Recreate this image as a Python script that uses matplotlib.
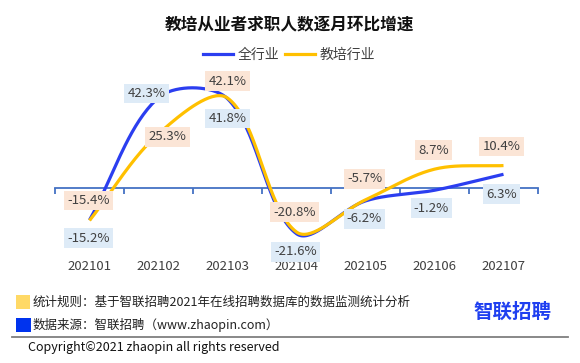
import numpy as np
import matplotlib.pyplot as plt
from matplotlib.lines import Line2D
from matplotlib.patches import Rectangle

plt.rcParams['font.family'] = ['Noto Sans CJK SC', 'DejaVu Sans']

# data: month-over-month growth of job seekers (%)
MONTHS = ["202101", "202102", "202103", "202104", "202105", "202106", "202107"]
ALL_INDUSTRY = [-15.2, 42.3, 41.8, -21.6, -6.2, -1.2, 6.3]
EDU_INDUSTRY = [-15.4, 25.3, 42.1, -20.8, -5.7, 8.7, 10.4]

# label offsets in pixels (dx, dy)
ALL_OFFSETS = [(-1, -18), (-12, 4), (0, -20), (-1, -18), (-1, -18), (-3, -18), (-2, -20)]
EDU_OFFSETS = [(-1, 20), (9, -3), (0, 17), (-2, 20), (-1, 21), (-1, 19), (-2, 19)]

BLUE = "#2b3ef0"
ORANGE = "#ffc000"
W, H = 580, 363
PX_X = 69.0   # pixels per category
PX_Y = 2.13   # pixels per percent


def smooth(xs, ys, n=40):
    # smoothed line like excel: bezier segments, tangents scaled by screen chord length
    pts = np.column_stack([np.asarray(xs) * PX_X, np.asarray(ys) * PX_Y]).astype(float)
    ext = np.vstack([pts[0], pts, pts[-1]])
    m = len(pts)
    c_out, c_in = [], []
    for i in range(m):
        prev, cur, nxt = ext[i], ext[i + 1], ext[i + 2]
        tang = nxt - prev
        dp = np.hypot(*(cur - prev))
        dn = np.hypot(*(nxt - cur))
        s = dp + dn
        c_out.append(cur + tang * dn / (3 * s) if s else cur)
        c_in.append(cur - tang * dp / (3 * s) if s else cur)
    out = []
    t = np.linspace(0, 1, n)[:, None]
    for i in range(m - 1):
        p0, p3 = pts[i], pts[i + 1]
        c1, c2 = c_out[i], c_in[i + 1]
        seg = ((1 - t) ** 3) * p0 + 3 * ((1 - t) ** 2) * t * c1 + 3 * (1 - t) * t ** 2 * c2 + t ** 3 * p3
        out.append(seg if i == 0 else seg[1:])
    out = np.vstack(out)
    return out[:, 0] / PX_X, out[:, 1] / PX_Y


fig = plt.figure(figsize=(W / 100, H / 100), dpi=100)
ax = fig.add_axes([55 / W, (H - 260) / H, 483 / W, 190 / H])

x = np.arange(len(MONTHS))
ax.set_xlim(-0.5, len(MONTHS) - 0.5)
ax.set_ylim(-(260 - 187.7) / PX_Y, (187.7 - 70) / PX_Y)

sx, sy = smooth(x, ALL_INDUSTRY)
ax.plot(sx, sy, color=BLUE, lw=2.3, solid_capstyle='butt', zorder=3)
sx, sy = smooth(x, EDU_INDUSTRY)
ax.plot(sx, sy, color=ORANGE, lw=2.3, solid_capstyle='butt', zorder=4)

for spine in ["top", "right", "left"]:
    ax.spines[spine].set_visible(False)
ax.spines["bottom"].set_position(("data", 0))
ax.spines["bottom"].set_color("#4472c4")
ax.spines["bottom"].set_linewidth(1.3)
ax.set_xticks(np.arange(-0.5, len(MONTHS), 1))
ax.set_xticklabels([])
ax.tick_params(axis="x", direction="out", length=4, width=1.3, color="#4472c4")
ax.set_yticks([])

for i, m in enumerate(MONTHS):
    ax.text(i, -0.032, m, transform=ax.get_xaxis_transform(), ha="center", va="center",
            fontsize=9.5, color="#404040")

for vals, offs, bg in [(ALL_INDUSTRY, ALL_OFFSETS, "#deebf7"), (EDU_INDUSTRY, EDU_OFFSETS, "#fbe5d6")]:
    for i, v in enumerate(vals):
        ax.annotate(f"{v}%", (i, v), xytext=offs[i], textcoords="offset pixels",
                    ha="center", va="center", fontsize=9.5, color="#404040", zorder=6,
                    bbox=dict(boxstyle="square,pad=0.25", fc=bg, ec="none"))

fig.text(289.5 / W, 1 - 24 / H, "教培从业者求职人数逐月环比增速", ha="center", va="center",
         fontsize=12, fontweight="bold", color="#111111")

handles = [Line2D([], [], color=BLUE, lw=2.3), Line2D([], [], color=ORANGE, lw=2.3)]
fig.legend(handles, ["全行业", "教培行业"], loc="center", bbox_to_anchor=(289 / W, 1 - 55 / H),
           ncol=2, frameon=False, fontsize=10, handlelength=2.2, handletextpad=0.3,
           columnspacing=0.4, labelcolor="#404040")

# footer
fig.patches.append(Rectangle((16 / W, 1 - 309 / H), 14 / W, 14 / H, transform=fig.transFigure,
                             fc="#ffd966", ec="none"))
fig.patches.append(Rectangle((16 / W, 1 - 332 / H), 15 / W, 14 / H, transform=fig.transFigure,
                             fc="#0033ee", ec="none"))
fig.text(33 / W, 1 - 302 / H, "统计规则：基于智联招聘2021年在线招聘数据库的数据监测统计分析",
         ha="left", va="center", fontsize=9, color="#222222")
fig.text(33 / W, 1 - 325 / H, "数据来源：智联招聘（www.zhaopin.com）",
         ha="left", va="center", fontsize=9, color="#222222")
fig.add_artist(Line2D([12 / W, 568 / W], [1 - 337 / H, 1 - 337 / H], transform=fig.transFigure,
                      color="#7f7f7f", lw=1.3))
fig.text(28 / W, 1 - 347 / H, "Copyright©2021 zhaopin all rights reserved",
         ha="left", va="center", fontsize=9, color="#111111")
fig.text(512 / W, 1 - 312 / H, "智联招聘", ha="center", va="center",
         fontsize=14, fontweight="bold", color="#1f3ff0")

fig.savefig("out.png", dpi=100)
